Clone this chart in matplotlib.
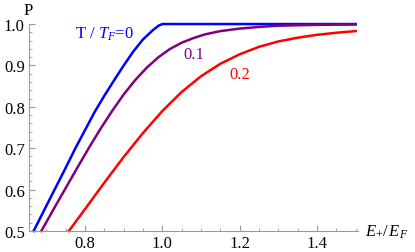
import matplotlib
matplotlib.use("Agg")
import matplotlib.pyplot as plt
from matplotlib.ticker import MultipleLocator, FormatStrFormatter

plt.rcParams['font.family'] = 'Liberation Serif'
plt.rcParams['mathtext.fontset'] = 'custom'
plt.rcParams['mathtext.rm'] = 'Liberation Serif'
plt.rcParams['mathtext.it'] = 'Liberation Serif:italic'

# curves: E+/EF vs polarisation P
x_t0 = [0.667, 0.70, 0.725, 0.75, 0.775, 0.80, 0.825, 0.85, 0.875, 0.90,
        0.925, 0.95, 0.975, 0.99, 1.0, 1.5]
p_t0 = [0.500, 0.561, 0.607, 0.653, 0.700, 0.744, 0.788, 0.827, 0.864, 0.900,
        0.934, 0.963, 0.985, 0.996, 1.0, 1.0]

x_t1 = [0.687, 0.72, 0.75, 0.78, 0.81, 0.84, 0.87, 0.90, 0.93, 0.96, 0.99,
        1.02, 1.05, 1.08, 1.11, 1.15, 1.20, 1.25, 1.30, 1.40, 1.50]
p_t1 = [0.500, 0.555, 0.604, 0.653, 0.701, 0.747, 0.790, 0.830, 0.865, 0.895, 0.920,
        0.940, 0.955, 0.966, 0.975, 0.983, 0.989, 0.993, 0.996, 0.998, 0.999]

x_t2 = [0.758, 0.80, 0.85, 0.90, 0.95, 1.00, 1.05, 1.10, 1.15, 1.20, 1.25,
        1.30, 1.35, 1.40, 1.45, 1.50]
p_t2 = [0.500, 0.553, 0.617, 0.679, 0.737, 0.790, 0.836, 0.874, 0.904, 0.927, 0.945,
        0.958, 0.967, 0.974, 0.979, 0.983]

curve_labels = ["0", "0.1", "0.2"]
colors = ["#0000ff", "#800080", "#ff0000"]

fig = plt.figure(figsize=(4.15, 2.53), dpi=100)
ax = fig.add_axes([0.0699, 0.083, 0.7928, 0.818])

for xs, ps, c in zip([x_t0, x_t1, x_t2], [p_t0, p_t1, p_t2], colors):
    ax.plot(xs, ps, color=c, lw=1.8, clip_on=False, solid_joinstyle='round')

ax.set_xlim(0.655, 1.506)
ax.set_ylim(0.5, 1.0)

ax.xaxis.set_major_locator(MultipleLocator(0.2))
ax.xaxis.set_minor_locator(MultipleLocator(0.05))
ax.yaxis.set_major_locator(MultipleLocator(0.1))
ax.yaxis.set_minor_locator(MultipleLocator(0.02))
ax.xaxis.set_major_formatter(FormatStrFormatter('%.1f'))
ax.yaxis.set_major_formatter(FormatStrFormatter('%.1f'))

for s in ['top', 'right']:
    ax.spines[s].set_visible(False)
for s in ['left', 'bottom']:
    ax.spines[s].set_color('#999999')
    ax.spines[s].set_linewidth(0.8)
ax.tick_params(which='both', direction='in', color='#999999', labelsize=12, pad=3)
ax.tick_params(which='major', length=4, width=0.8)
ax.tick_params(which='minor', length=2.5, width=0.6)

ax.text(-0.004, 1.03, "P", transform=ax.transAxes, fontsize=12, ha='center', va='bottom')
ax.text(1.022, 0.0, r"$E_{+}/\,E_F$", transform=ax.transAxes, fontsize=12,
        ha='left', va='center')

ax.text(0.849, 0.978, r"T / $T_F$=0", color=colors[0], fontsize=12, ha='center', va='center')
ax.text(1.08, 0.927, curve_labels[1], color=colors[1], fontsize=12, ha='center', va='center')
ax.text(1.199, 0.879, curve_labels[2], color=colors[2], fontsize=12, ha='center', va='center')

fig.savefig("out.png", dpi=100)
